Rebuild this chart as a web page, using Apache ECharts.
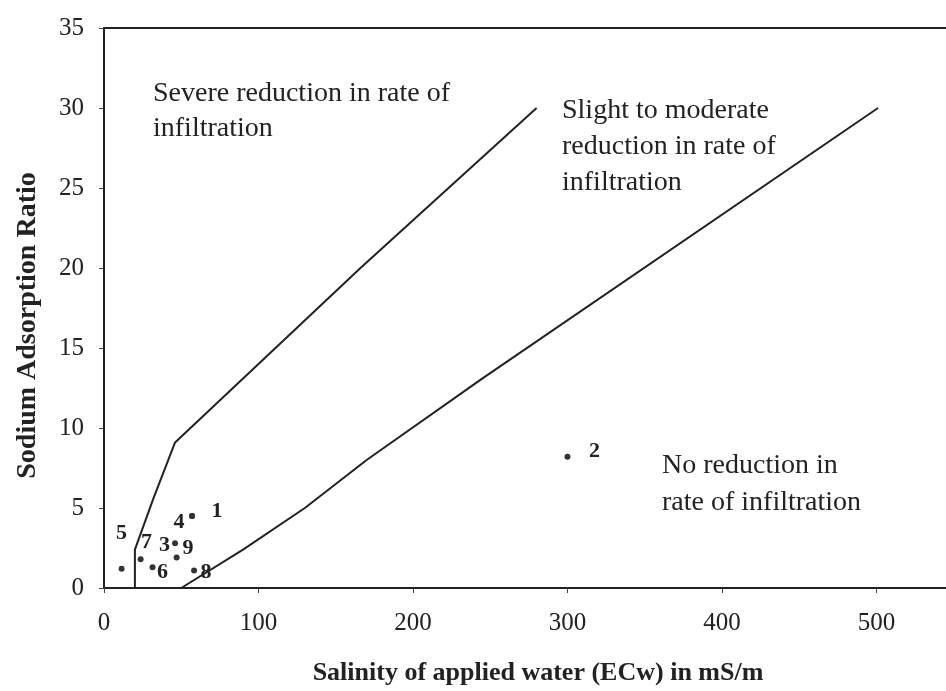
<!DOCTYPE html>
<html>
<head>
<meta charset="utf-8">
<script src="https://cdn.jsdelivr.net/npm/echarts@6/dist/echarts.min.js"></script>
<style>
html,body{margin:0;padding:0;background:#fff;}
#chart{width:946px;height:691px;}
</style>
</head>
<body>
<div id="chart"></div>
<script>
// ---- data ----
var xTicks = [0, 100, 200, 300, 400, 500];
var yTicks = [0, 5, 10, 15, 20, 25, 30, 35];
// boundary: severe / slight-to-moderate
var severeX = [20, 20, 32, 46, 166, 280];
var severeY = [0, 2.4, 5.6, 9.1, 20, 30];
// boundary: slight-to-moderate / none
var noneX = [50, 90, 130, 170, 245, 501];
var noneY = [0, 2.4, 5.0, 8.0, 13.1, 30];
// samples
var sampleNames = ['1', '2', '3', '4', '5', '6', '7', '8', '9'];
var sampleEC = [57, 300, 47, 57, 11.4, 31.4, 23.7, 58.3, 46];
var sampleSAR = [4.5, 8.2, 1.9, 4.5, 1.2, 1.3, 1.8, 1.1, 2.8];

// ---- label placement (style) ----
var labelOffsets = {
  '1': [25, -5], '2': [27, -5], '3': [-12, -12], '4': [-13, 6],
  '5': [0, -35], '6': [10, 5], '7': [6, -17], '8': [12, 2], '9': [13, 5]
};

var serif = '"Liberation Serif", "Times New Roman", serif';
var chart = echarts.init(document.getElementById('chart'));

function pairs(xs, ys) { return xs.map(function (x, i) { return [x, ys[i]]; }); }

var scatterData = sampleNames.map(function (n, i) {
  return {
    name: n,
    value: [sampleEC[i], sampleSAR[i]],
    label: { offset: labelOffsets[n] }
  };
});

var option = {
  animation: false,
  backgroundColor: '#fff',
  grid: { left: 104, top: 28, right: 0, bottom: 101, containLabel: false },
  xAxis: [{
    type: 'value', min: 0, max: 545, interval: 100,
    axisLine: { show: true, lineStyle: { color: '#222', width: 2 } },
    axisTick: { show: true, length: 5, lineStyle: { color: '#444', width: 1 } },
    splitLine: { show: false },
    axisLabel: {
      margin: 23, color: '#222', fontFamily: serif, fontSize: 25,
      showMaxLabel: false,
      formatter: function (v) { return xTicks.indexOf(v) >= 0 ? String(v) : ''; }
    },
    name: 'Salinity of applied water (ECw) in mS/m',
    nameLocation: 'middle', nameGap: 72,
    nameTextStyle: { color: '#222', fontFamily: serif, fontSize: 26, fontWeight: 'bold', padding: [0, 0, 0, 26] }
  }, {
    type: 'value', position: 'top', min: 0, max: 545,
    axisLine: { show: true, lineStyle: { color: '#222', width: 2 } },
    axisTick: { show: false }, axisLabel: { show: false }, splitLine: { show: false }
  }],
  yAxis: {
    type: 'value', min: 0, max: 35, interval: 5,
    axisLine: { show: true, lineStyle: { color: '#222', width: 2 } },
    axisTick: { show: true, length: 5, lineStyle: { color: '#444', width: 1 } },
    splitLine: { show: false },
    axisLabel: {
      margin: 20, color: '#222', fontFamily: serif, fontSize: 25,
      formatter: function (v) { return yTicks.indexOf(v) >= 0 ? String(v) : ''; }
    },
    name: 'Sodium Adsorption Ratio',
    nameLocation: 'middle', nameGap: 62, nameRotate: 90,
    nameTextStyle: { color: '#222', fontFamily: serif, fontSize: 28, fontWeight: 'bold', padding: [0, 0, 0, -35] }
  },
  series: [{
    type: 'line', data: pairs(severeX, severeY), symbol: 'none',
    lineStyle: { color: '#222', width: 2 }, silent: true
  }, {
    type: 'line', data: pairs(noneX, noneY), symbol: 'none',
    lineStyle: { color: '#222', width: 2 }, silent: true
  }, {
    type: 'scatter', data: scatterData, symbol: 'circle', symbolSize: 6,
    itemStyle: { color: '#333', opacity: 1 },
    label: {
      show: true, position: 'inside', formatter: '{b}',
      color: '#222', fontFamily: serif, fontSize: 22, fontWeight: 'bold',
      textBorderWidth: 0, opacity: 1
    }
  }],
  graphic: [
    { type: 'text', left: 153, top: 76, style: { text: 'Severe reduction in rate of\ninfiltration', font: '28px ' + serif, fill: '#222', lineHeight: 35 } },
    { type: 'text', left: 562, top: 93, style: { text: 'Slight to moderate\nreduction in rate of\ninfiltration', font: '28px ' + serif, fill: '#222', lineHeight: 36 } },
    { type: 'text', left: 662, top: 447, style: { text: 'No reduction in\nrate of infiltration', font: '28px ' + serif, fill: '#222', lineHeight: 37 } }
  ]
};
chart.setOption(option);
</script>
</body>
</html>
